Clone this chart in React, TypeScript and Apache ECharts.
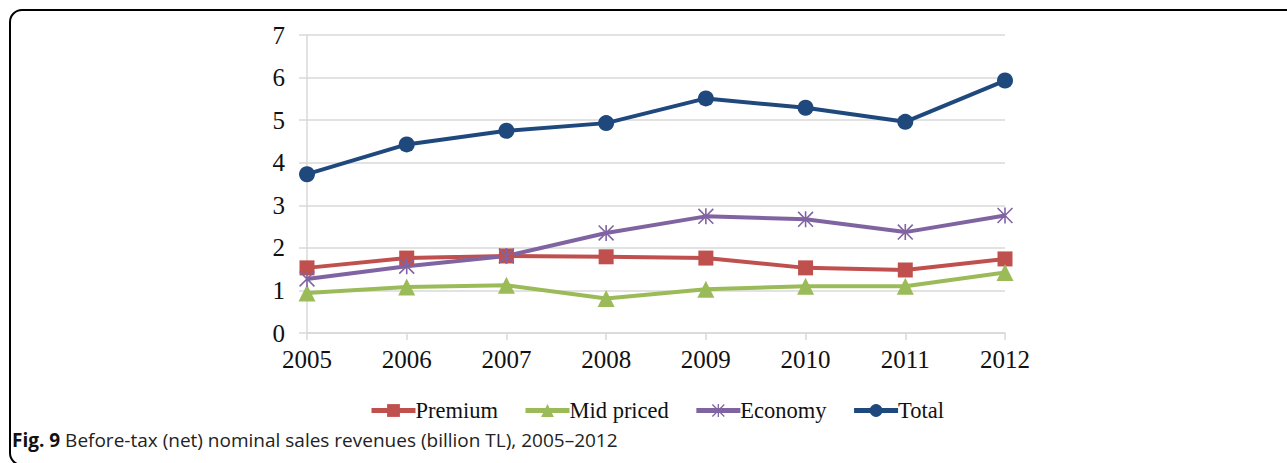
import React, { useEffect, useRef } from "react";
import * as echarts from "echarts";

const years = ["2005", "2006", "2007", "2008", "2009", "2010", "2011", "2012"];
const premium = [1.53, 1.76, 1.81, 1.79, 1.76, 1.53, 1.48, 1.74];
const midPriced = [0.94, 1.08, 1.12, 0.81, 1.03, 1.1, 1.1, 1.42];
const economy = [1.27, 1.57, 1.81, 2.35, 2.74, 2.67, 2.37, 2.76];
const total = [3.73, 4.43, 4.75, 4.93, 5.51, 5.29, 4.96, 5.93];
const captionBold = "Fig. 9";
const captionText = " Before-tax (net) nominal sales revenues (billion TL), 2005–2012";

const asterisk =
  "path://M9 0 L11 0 L11 20 L9 20 Z M0 1.4 L1.4 0 L20 18.6 L18.6 20 Z M18.6 0 L20 1.4 L1.4 20 L0 18.6 Z";

export default function App() {
  const ref = useRef<HTMLDivElement>(null);
  useEffect(() => {
    if (!ref.current) return;
    const chart = echarts.init(ref.current, null, { renderer: "svg" });
    const mk = (name: string, data: number[], color: string, symbol: string, size: number) => ({
      name,
      type: "line",
      data,
      symbol,
      symbolSize: size,
      lineStyle: { color, width: 4 },
      itemStyle: { color },
      emphasis: { disabled: true },
    });
    chart.setOption({
      animation: false,
      backgroundColor: "#fff",
      textStyle: { fontFamily: "Liberation Serif" },
      grid: { left: 307, right: 282, top: 35, bottom: 130 },
      xAxis: {
        type: "category",
        data: years,
        boundaryGap: false,
        axisLine: { lineStyle: { color: "#d9d9d9", width: 1.5 } },
        axisTick: { show: true, length: 7, lineStyle: { color: "#d9d9d9", width: 1.5 } },
        axisLabel: { color: "#111", fontSize: 25, fontFamily: "Liberation Serif", margin: 14 },
        splitLine: { show: false },
      },
      yAxis: {
        type: "value",
        min: 0,
        max: 7,
        interval: 1,
        axisLine: { show: true, lineStyle: { color: "#d9d9d9", width: 1.5 } },
        axisTick: { show: true, length: 8, lineStyle: { color: "#d9d9d9", width: 1.5 } },
        axisLabel: { color: "#111", fontSize: 25, fontFamily: "Liberation Serif", margin: 22 },
        splitLine: { lineStyle: { color: "#d9d9d9", width: 1.5 } },
      },
      legend: {
        left: 364,
        top: 394,
        itemWidth: 44,
        itemHeight: 16,
        itemGap: 25,
        lineStyle: { width: 5 },
        textStyle: { color: "#111", fontSize: 22.5, fontFamily: "Liberation Serif", padding: [0, 0, 0, -5] },
        data: ["Premium", "Mid priced", "Economy", "Total"],
      },
      graphic: [
        {
          type: "rect",
          shape: { x: 10, y: 10, width: 1300, height: 455, r: [12, 0, 0, 12] },
          style: { fill: "none", stroke: "#000", lineWidth: 2 },
          silent: true,
        },
        {
          type: "text",
          left: 12,
          top: 430,
          style: {
            text: "{b|" + captionBold + "}{n|" + captionText + "}",
            rich: {
              b: { fontFamily: "Open Sans", fontWeight: "bold", fontSize: 19, fill: "#111" },
              n: { fontFamily: "Open Sans", fontSize: 19, fill: "#222" },
            },
          },
        },
      ],
      series: [
        mk("Premium", premium, "#C0504D", "rect", 15),
        mk("Mid priced", midPriced, "#9BBB59", "triangle", 17),
        mk("Economy", economy, "#8064A2", asterisk, 16),
        mk("Total", total, "#1F497D", "circle", 16),
      ],
    });
    return () => chart.dispose();
  }, []);
  return (
    <div
      ref={ref}
      style={{ position: "fixed", left: 0, top: 0, width: 1287, height: 463 }}
    />
  );
}
